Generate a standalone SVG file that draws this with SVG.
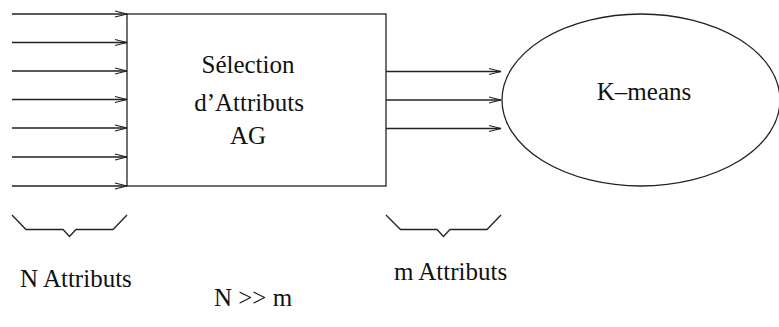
<svg xmlns="http://www.w3.org/2000/svg" width="779" height="327" viewBox="0 0 779 327">
  <style>
    .ln { fill: none; stroke: #222; stroke-width: 1.3; }
    .tx { font-family: "Liberation Serif", "Times New Roman", serif; font-size: 25px; fill: #111; }
  </style>
  <defs>
    <marker id="chev" markerUnits="userSpaceOnUse" markerWidth="16" markerHeight="10" refX="12" refY="3" orient="auto" overflow="visible">
      <path d="M0,0 L12,3 L0,6" fill="none" stroke="#222" stroke-width="1.1"/>
    </marker>
  </defs>
  <rect width="779" height="327" fill="#fff"/>

  <g id="connectors">
    <line class="ln" x1="12" y1="14" x2="127" y2="14" marker-end="url(#chev)"/>
    <line class="ln" x1="12" y1="42.5" x2="127" y2="42.5" marker-end="url(#chev)"/>
    <line class="ln" x1="12" y1="71" x2="127" y2="71" marker-end="url(#chev)"/>
    <line class="ln" x1="12" y1="99.5" x2="127" y2="99.5" marker-end="url(#chev)"/>
    <line class="ln" x1="12" y1="128" x2="127" y2="128" marker-end="url(#chev)"/>
    <line class="ln" x1="12" y1="157" x2="127" y2="157" marker-end="url(#chev)"/>
    <line class="ln" x1="12" y1="186" x2="127" y2="186" marker-end="url(#chev)"/>
    <line class="ln" x1="386" y1="71.5" x2="501" y2="71.5" marker-end="url(#chev)"/>
    <line class="ln" x1="386" y1="100" x2="501" y2="100" marker-end="url(#chev)"/>
    <line class="ln" x1="386" y1="128.5" x2="501" y2="128.5" marker-end="url(#chev)"/>
  </g>

  <g id="selection">
    <rect class="ln" x="127" y="14" width="259" height="172"/>
    <text class="tx" x="248" y="73" text-anchor="middle">Sélection</text>
    <text class="tx" x="249" y="110.5" text-anchor="middle">d’Attributs</text>
    <text class="tx" x="248" y="144" text-anchor="middle">AG</text>
  </g>

  <g id="kmeans">
    <ellipse class="ln" cx="641" cy="100" rx="139" ry="86"/>
    <text class="tx" x="644" y="100" text-anchor="middle">K–means</text>
  </g>

  <g id="n-attributs">
    <path class="ln" d="M12,215 L26,229.5 L63,229.5 L69.5,236.5 L76,229.5 L113,229.5 L127,215"/>
    <text class="tx" x="20" y="287">N Attributs</text>
  </g>

  <g id="m-attributs">
    <path class="ln" d="M386,215 L400.5,229.5 L437,229.5 L443.5,236.5 L450,229.5 L487,229.5 L501,215"/>
    <text class="tx" x="394" y="280">m Attributs</text>
  </g>

  <g id="relation">
    <text class="tx" x="253" y="306" text-anchor="middle">N &gt;&gt; m</text>
  </g>
</svg>
